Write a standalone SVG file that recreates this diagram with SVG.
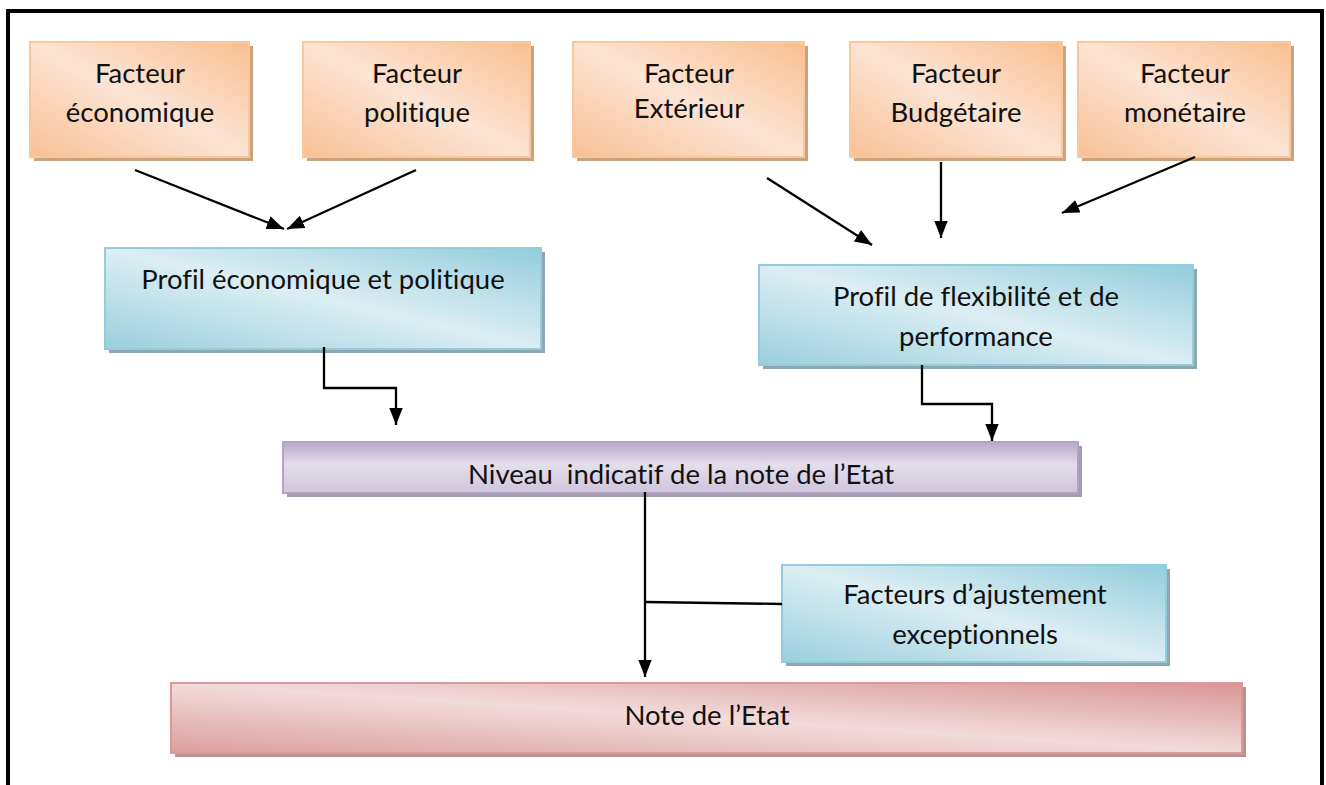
<svg xmlns="http://www.w3.org/2000/svg" width="1326" height="785" viewBox="0 0 1326 785">
  <defs>
    <linearGradient id="gOrange" x1="1" y1="0" x2="0" y2="1">
      <stop offset="0" stop-color="#F9BF8F"/>
      <stop offset="0.5" stop-color="#FCE4D4"/>
      <stop offset="1" stop-color="#F8C095"/>
    </linearGradient>
    <linearGradient id="gBlue" x1="1" y1="0" x2="0" y2="1">
      <stop offset="0" stop-color="#92CDDC"/>
      <stop offset="0.5" stop-color="#DCEEF3"/>
      <stop offset="1" stop-color="#9ACFDD"/>
    </linearGradient>
    <linearGradient id="gPurple" x1="0" y1="0" x2="0" y2="1">
      <stop offset="0" stop-color="#B7A7CB"/>
      <stop offset="0.45" stop-color="#E4DEEB"/>
      <stop offset="1" stop-color="#CFC4DC"/>
    </linearGradient>
    <linearGradient id="gRed" x1="1" y1="0" x2="0" y2="1">
      <stop offset="0" stop-color="#D99594"/>
      <stop offset="0.5" stop-color="#F2DBDB"/>
      <stop offset="1" stop-color="#DC9E9D"/>
    </linearGradient>
    <marker id="arrow" viewBox="0 0 14 11" refX="14" refY="5.5" markerWidth="7.5" markerHeight="6" markerUnits="strokeWidth" orient="auto">
      <path d="M0,0 L14,5.5 L0,11 Z" fill="#000"/>
    </marker>
    <style>
      .lbl { font-family: Lato, "Open Sans", sans-serif; font-size: 27.5px; fill: #111; text-anchor: middle; white-space: pre; font-variant-ligatures: none; font-feature-settings: "liga" 0, "clig" 0; }
      .orange { fill: url(#gOrange); stroke: #FAC69A; stroke-width: 2; }
      .blue { fill: url(#gBlue); stroke: #93CDDD; stroke-width: 2; }
      .purple { fill: url(#gPurple); stroke: #B3A2C7; stroke-width: 2; }
      .red { fill: url(#gRed); stroke: #DA9998; stroke-width: 2; }
      .sh-orange { fill: #C9A27F; }
      .sh-blue { fill: #8FA7AF; }
      .sh-purple { fill: #A29DAA; }
      .sh-red { fill: #B99393; }
      .conn { fill: none; stroke: #000; stroke-width: 2.3; }
    </style>
  </defs>

  <rect width="1326" height="785" fill="#fff"/>

  <!-- page frame, open at the bottom -->
  <path d="M8,785 L8,11 L1322,11 L1322,785" fill="none" stroke="#000" stroke-width="4"/>

  <!-- top row: factors -->
  <g id="facteur-economique">
    <rect class="sh-orange" x="34" y="46" width="219" height="115"/>
    <rect class="orange" x="30" y="42" width="219" height="115"/>
    <text class="lbl" x="140" y="83">Facteur</text>
    <text class="lbl" x="140" y="122">économique</text>
  </g>
  <g id="facteur-politique">
    <rect class="sh-orange" x="307" y="46" width="227" height="115"/>
    <rect class="orange" x="303" y="42" width="227" height="115"/>
    <text class="lbl" x="417" y="83">Facteur</text>
    <text class="lbl" x="417" y="122">politique</text>
  </g>
  <g id="facteur-exterieur">
    <rect class="sh-orange" x="577" y="46" width="231" height="115"/>
    <rect class="orange" x="573" y="42" width="231" height="115"/>
    <text class="lbl" x="689" y="83">Facteur</text>
    <text class="lbl" x="689" y="118">Extérieur</text>
  </g>
  <g id="facteur-budgetaire">
    <rect class="sh-orange" x="854" y="46" width="212" height="115"/>
    <rect class="orange" x="850" y="42" width="212" height="115"/>
    <text class="lbl" x="956" y="83">Facteur</text>
    <text class="lbl" x="956" y="122">Budgétaire</text>
  </g>
  <g id="facteur-monetaire">
    <rect class="sh-orange" x="1082" y="46" width="212" height="115"/>
    <rect class="orange" x="1078" y="42" width="212" height="115"/>
    <text class="lbl" x="1185" y="83">Facteur</text>
    <text class="lbl" x="1185" y="122">monétaire</text>
  </g>

  <!-- profiles -->
  <g id="profil-economique-politique">
    <rect class="sh-blue" x="109" y="252" width="436" height="101"/>
    <rect class="blue" x="105" y="248" width="436" height="101"/>
    <text class="lbl" x="323" y="289">Profil économique et politique</text>
  </g>
  <g id="profil-flexibilite-performance">
    <rect class="sh-blue" x="763" y="269" width="434" height="100"/>
    <rect class="blue" x="759" y="265" width="434" height="100"/>
    <text class="lbl" x="976" y="306">Profil de flexibilité et de</text>
    <text class="lbl" x="976" y="346">performance</text>
  </g>

  <!-- indicative level -->
  <g id="niveau-indicatif">
    <rect class="sh-purple" x="287" y="446" width="795" height="51"/>
    <rect class="purple" x="283" y="442" width="795" height="51"/>
    <text class="lbl" x="681" y="484">Niveau  indicatif de la note de l’Etat</text>
  </g>

  <!-- adjustment factors -->
  <g id="facteurs-ajustement">
    <rect class="sh-blue" x="786" y="569" width="384" height="97"/>
    <rect class="blue" x="782" y="565" width="384" height="97"/>
    <text class="lbl" x="975" y="604">Facteurs d’ajustement</text>
    <text class="lbl" x="975" y="644">exceptionnels</text>
  </g>

  <!-- final rating -->
  <g id="note-etat">
    <rect class="sh-red" x="175" y="687" width="1071" height="70"/>
    <rect class="red" x="171" y="683" width="1071" height="70"/>
    <text class="lbl" x="707" y="725">Note de l’Etat</text>
  </g>

  <!-- connectors -->
  <g id="connectors">
    <line class="conn" x1="135" y1="170" x2="284" y2="229" marker-end="url(#arrow)"/>
    <line class="conn" x1="416" y1="170" x2="287" y2="229" marker-end="url(#arrow)"/>
    <line class="conn" x1="767" y1="178" x2="872" y2="245" marker-end="url(#arrow)"/>
    <line class="conn" x1="941" y1="162" x2="941" y2="238" marker-end="url(#arrow)"/>
    <line class="conn" x1="1195" y1="157" x2="1062" y2="213" marker-end="url(#arrow)"/>
    <polyline class="conn" points="324,347 324,388 396,388 396,425" marker-end="url(#arrow)"/>
    <polyline class="conn" points="922,365 922,404 992,404 992,441" marker-end="url(#arrow)"/>
    <line class="conn" x1="645" y1="492" x2="645" y2="677" marker-end="url(#arrow)"/>
    <line class="conn" x1="645" y1="602" x2="782" y2="604"/>
  </g>
</svg>
